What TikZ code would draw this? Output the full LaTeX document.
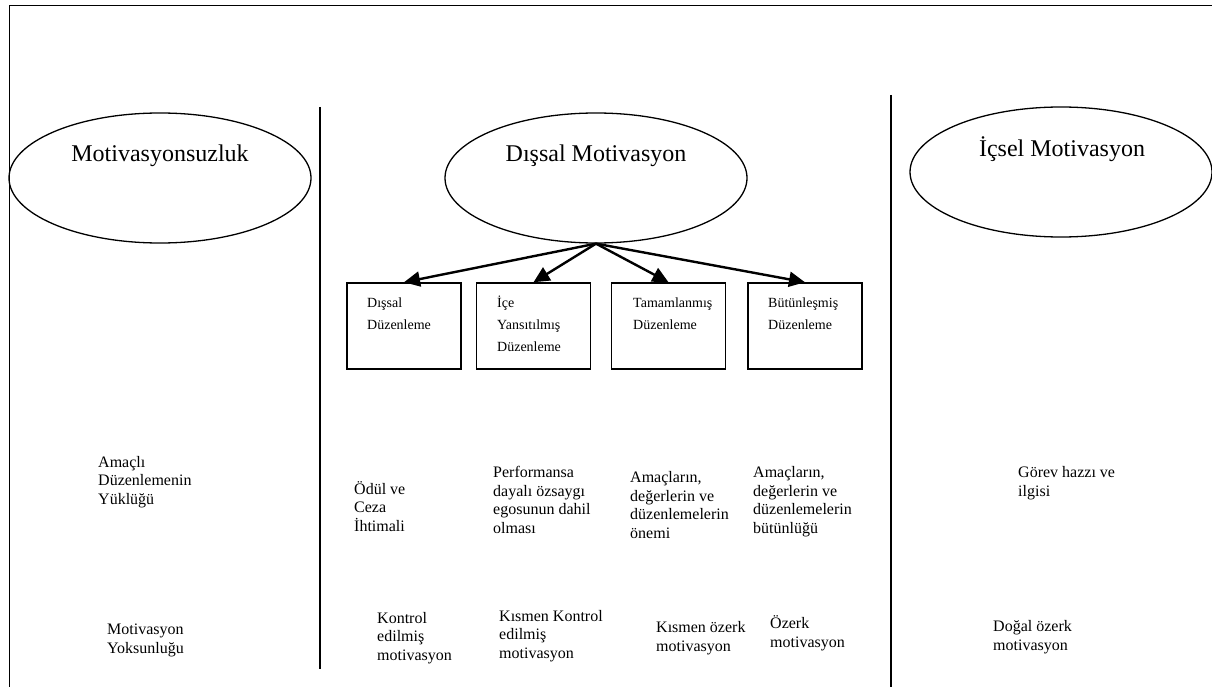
\documentclass[tikz,border=0pt]{standalone}
\usepackage{fontspec}
\setmainfont{Liberation Serif}
\usetikzlibrary{shapes.geometric,arrows.meta}

\tikzset{
  frameline/.style={line width=0.9pt},
  divider/.style={line width=1.6pt},
  oval/.style={draw, ellipse, line width=1.3pt, inner sep=0pt,
               minimum width=302pt, minimum height=130pt},
  ovaltext/.style={anchor=base, inner sep=0pt, font=\fontsize{24}{28}\selectfont},
  regbox/.style={draw, line width=1.5pt, minimum width=114pt, minimum height=86pt,
                 inner sep=0pt},
  % multi-line texts are placed by the baseline of their last line
  boxtext/.style={anchor=base west, inner sep=0pt, align=left,
                  font=\fontsize{14}{22}\selectfont},
  note/.style={anchor=base west, inner sep=0pt, align=left,
               font=\fontsize{16}{18.5}\selectfont},
  branch/.style={line width=2.4pt, -{Triangle[length=16pt,width=15pt]}}
}

\begin{document}
\begin{tikzpicture}[x=1pt,y=-1pt]
\useasboundingbox (0,0) rectangle (1212,687);

% outer frame (top and left edges) and column dividers
\draw[frameline] (1212,5) -- (9,5) -- (9,687);
\draw[divider] (320,107) -- (320,669);
\draw[divider] (891,95) -- (891,687);

% the three motivation types
\node[oval] (amot) at (160,178) {};
\node[oval] (ext)  at (596,178) {};
\node[oval] (intr) at (1061,172) {};
\node[ovaltext] (amotlbl) at (160,162) {Motivasyonsuzluk};
\node[ovaltext] (extlbl)  at (596,162) {Dışsal Motivasyon};
\node[ovaltext] (intrlbl) at (1062,157) {İçsel Motivasyon};

% regulation styles under extrinsic motivation
\node[regbox] (r1) at (404,326) {};
\node[regbox] (r2) at (533.5,326) {};
\node[regbox] (r3) at (668.5,326) {};
\node[regbox] (r4) at (805,326) {};
\node[boxtext] (r1t) at (367,329) {Dışsal\\Düzenleme};
\node[boxtext] (r2t) at (497,351) {İçe\\Yansıtılmış\\Düzenleme};
\node[boxtext] (r3t) at (633,329) {Tamamlanmış\\Düzenleme};
\node[boxtext] (r4t) at (768,329) {Bütünleşmiş\\Düzenleme};

\foreach \b in {r1,r2,r3,r4}
  \draw[branch] (ext.south) -- (\b.north);

% processes
\node[note] (p0) at (98,504)   {Amaçlı\\Düzenlemenin\\Yüklüğü};
\node[note] (p1) at (354,531)  {Ödül ve\\Ceza\\İhtimali};
\node[note] (p2) at (493,533)  {Performansa\\dayalı özsaygı\\egosunun dahil\\olması};
\node[note] (p3) at (630,538)  {Amaçların,\\değerlerin ve\\düzenlemelerin\\önemi};
\node[note] (p4) at (753,533)  {Amaçların,\\değerlerin ve\\düzenlemelerin\\bütünlüğü};
\node[note] (p5) at (1018,496) {Görev hazzı ve\\ilgisi};

% perceived locus of causality
\node[note] (c0) at (107,653) {Motivasyon\\Yoksunluğu};
\node[note] (c1) at (377,660) {Kontrol\\edilmiş\\motivasyon};
\node[note] (c2) at (499,658) {Kısmen Kontrol\\edilmiş\\motivasyon};
\node[note] (c3) at (656,651) {Kısmen özerk\\motivasyon};
\node[note] (c4) at (770,647) {Özerk\\motivasyon};
\node[note] (c5) at (993,650) {Doğal özerk\\motivasyon};
\end{tikzpicture}
\end{document}
